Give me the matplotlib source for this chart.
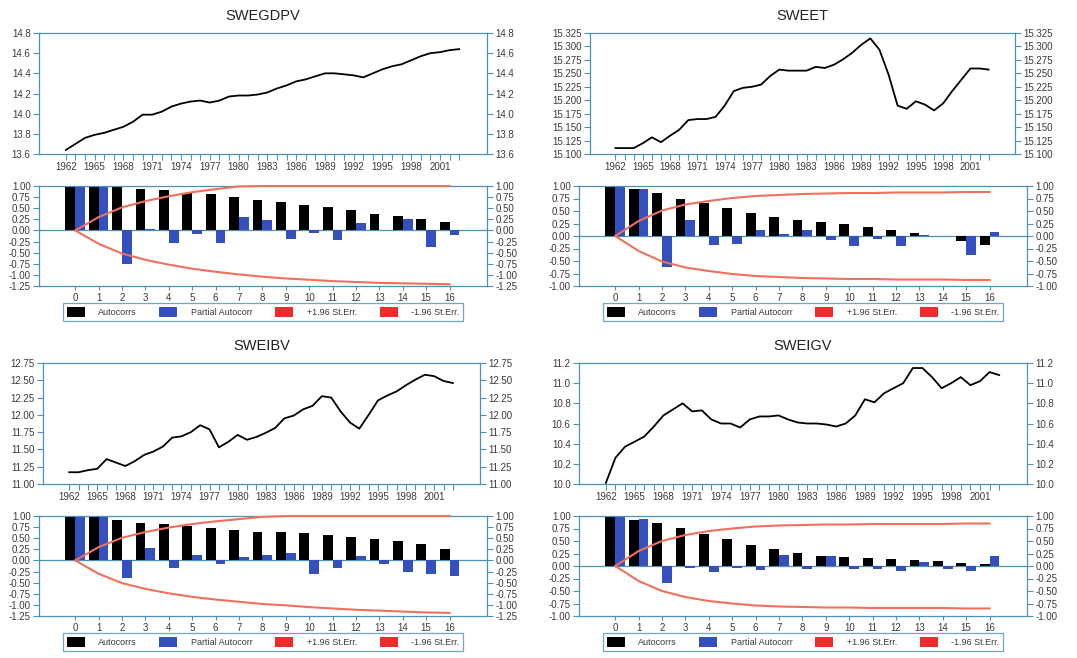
import numpy as np
import matplotlib
matplotlib.use("Agg")
import matplotlib.pyplot as plt
from matplotlib.patches import Patch
from matplotlib.ticker import FuncFormatter

plt.rcParams['font.family'] = ['Liberation Sans', 'DejaVu Sans']

years = list(range(1962, 2004))
lags = list(range(17))

# log levels, 1962-2003
swegdpv = [13.64, 13.70, 13.76, 13.79, 13.81, 13.84, 13.87, 13.92, 13.99, 13.99,
           14.02, 14.07, 14.10, 14.12, 14.13, 14.11, 14.13, 14.17, 14.18, 14.18,
           14.19, 14.21, 14.25, 14.28, 14.32, 14.34, 14.37, 14.40, 14.40, 14.39,
           14.38, 14.36, 14.40, 14.44, 14.47, 14.49, 14.53, 14.57, 14.60, 14.61,
           14.63, 14.64]
sweet = [15.111, 15.111, 15.111, 15.120, 15.131, 15.122, 15.134, 15.145, 15.163, 15.165,
         15.165, 15.169, 15.190, 15.217, 15.223, 15.225, 15.229, 15.245, 15.257, 15.255,
         15.255, 15.255, 15.262, 15.260, 15.266, 15.276, 15.288, 15.303, 15.315, 15.294,
         15.248, 15.190, 15.184, 15.198, 15.192, 15.181, 15.194, 15.217, 15.238, 15.259,
         15.259, 15.257]
sweibv = [11.17, 11.17, 11.20, 11.22, 11.36, 11.31, 11.26, 11.33, 11.42, 11.47,
          11.54, 11.67, 11.69, 11.75, 11.85, 11.79, 11.53, 11.61, 11.71, 11.64,
          11.68, 11.74, 11.81, 11.95, 11.99, 12.08, 12.13, 12.27, 12.25, 12.05,
          11.89, 11.80, 12.00, 12.21, 12.28, 12.34, 12.43, 12.51, 12.58, 12.56,
          12.49, 12.46]
sweigv = [10.01, 10.26, 10.37, 10.42, 10.47, 10.57, 10.68, 10.74, 10.80, 10.72,
          10.73, 10.64, 10.60, 10.60, 10.56, 10.64, 10.67, 10.67, 10.68, 10.64,
          10.61, 10.60, 10.60, 10.59, 10.57, 10.60, 10.68, 10.84, 10.81, 10.90,
          10.95, 11.00, 11.15, 11.15, 11.06, 10.95, 11.00, 11.06, 10.98, 11.02,
          11.11, 11.08]

# correlograms, lags 0-16
gdp_acf = [1.00, 1.00, 0.97, 0.94, 0.90, 0.85, 0.81, 0.75, 0.69, 0.64,
           0.58, 0.52, 0.45, 0.38, 0.32, 0.26, 0.19]
gdp_pacf = [1.00, 1.00, -0.76, 0.04, -0.29, -0.09, -0.29, 0.31, 0.23, -0.20,
            -0.05, -0.22, 0.17, 0.01, 0.26, -0.38, -0.10]
gdp_band = [0.00, 0.30, 0.52, 0.66, 0.77, 0.86, 0.93, 0.99, 1.04, 1.08,
            1.11, 1.14, 1.16, 1.18, 1.19, 1.20, 1.21]

et_acf = [1.00, 0.95, 0.86, 0.75, 0.66, 0.57, 0.47, 0.39, 0.33, 0.29,
          0.24, 0.19, 0.13, 0.07, 0.01, -0.10, -0.18]
et_pacf = [1.00, 0.95, -0.62, 0.33, -0.18, -0.15, 0.12, 0.05, 0.12, -0.08,
           -0.19, -0.05, -0.19, 0.03, 0.00, -0.37, 0.09]
et_band = [0.00, 0.30, 0.51, 0.63, 0.70, 0.76, 0.80, 0.82, 0.84, 0.85,
           0.86, 0.86, 0.87, 0.87, 0.87, 0.88, 0.88]

ibv_acf = [1.00, 0.97, 0.90, 0.85, 0.81, 0.77, 0.72, 0.68, 0.64, 0.64,
           0.62, 0.58, 0.53, 0.49, 0.44, 0.36, 0.26]
ibv_pacf = [1.00, 0.97, -0.39, 0.27, -0.18, 0.13, -0.08, 0.08, 0.13, 0.16,
            -0.31, -0.16, 0.10, -0.08, -0.27, -0.31, -0.34]
ibv_band = [0.00, 0.30, 0.51, 0.64, 0.74, 0.82, 0.88, 0.93, 0.98, 1.01,
            1.05, 1.08, 1.11, 1.13, 1.15, 1.17, 1.18]

igv_acf = [1.00, 0.93, 0.86, 0.76, 0.65, 0.54, 0.43, 0.34, 0.27, 0.20,
           0.19, 0.16, 0.14, 0.12, 0.10, 0.06, 0.04]
igv_pacf = [1.00, 0.94, -0.33, -0.04, -0.12, -0.04, -0.08, 0.23, -0.06, 0.20,
            -0.06, -0.05, -0.10, 0.08, -0.06, -0.10, 0.20]
igv_band = [0.00, 0.30, 0.50, 0.62, 0.70, 0.75, 0.79, 0.81, 0.82, 0.83,
            0.83, 0.84, 0.84, 0.84, 0.84, 0.85, 0.85]

legend_labels = ['Autocorrs', 'Partial Autocorr', '+1.96 St.Err.', '-1.96 St.Err.']

AXIS = '#4a93b5'
BLUE = '#3450bf'
BAND = '#f0705e'
RED = '#ee2c2c'
TXT = '#3a3a3a'

W, H = 1077, 658


def rect(l, r, t, b):
    return [l / W, 1 - b / H, (r - l) / W, (b - t) / H]


def style(ax):
    for s in ax.spines.values():
        s.set_color(AXIS)
        s.set_linewidth(0.9)
    ax.tick_params(colors=AXIS, labelcolor=TXT, labelsize=7, width=0.8)
    ax.tick_params(axis='y', left=True, right=True, labelleft=True, labelright=True,
                   length=4, pad=2)
    ax.tick_params(axis='x', length=4, pad=2)


def draw_level(ax, name, values, yticks, fmt):
    ax.plot(years, values, color='black', lw=1.3)
    ax.set_xlim(1959.2, 2005.9)
    ax.set_xticks(years)
    ax.set_xticklabels([str(y) if (y - 1962) % 3 == 0 else '' for y in years])
    ax.set_ylim(yticks[0], yticks[-1])
    ax.set_yticks(yticks)
    ax.yaxis.set_major_formatter(FuncFormatter(lambda v, p: fmt % v))
    style(ax)
    ax.set_title(name, fontsize=10.5, pad=9, color='#222222')


def draw_acf(ax, acf, pacf, band, ylo):
    band = np.array(band)
    ax.bar(lags, acf, width=-0.42, align='edge', color='black', zorder=2)
    ax.bar(lags, pacf, width=0.42, align='edge', color=BLUE, zorder=2)
    ax.axhline(0, color=AXIS, lw=0.9, zorder=1)
    # the chart clamps the bands to the plotting range
    ax.plot(lags, np.minimum(band, 1.0), color=BAND, lw=1.5, zorder=3, clip_on=False)
    ax.plot(lags, np.maximum(-band, ylo), color=BAND, lw=1.5, zorder=3, clip_on=False)
    ax.set_xlim(-1.55, 17.6)
    ax.set_xticks(lags)
    ax.set_ylim(ylo, 1.0)
    ax.set_yticks(np.arange(ylo, 1.001, 0.25))
    ax.yaxis.set_major_formatter(FuncFormatter(lambda v, p: '%.2f' % v))
    style(ax)
    ax.tick_params(axis='x', length=3)
    handles = [Patch(fc='black'), Patch(fc=BLUE), Patch(fc=RED), Patch(fc=RED)]
    leg = ax.legend(handles, legend_labels, loc='upper center',
                    bbox_to_anchor=(0.5, -0.17), ncol=4, fontsize=6.5,
                    frameon=True, fancybox=False, handlelength=2.0,
                    handleheight=1.3, handletextpad=1.5, columnspacing=2.5,
                    borderpad=0.45, borderaxespad=0)
    leg.get_frame().set_edgecolor(AXIS)
    leg.get_frame().set_linewidth(0.9)
    for t in leg.get_texts():
        t.set_color(TXT)


fig = plt.figure(figsize=(W / 100, H / 100), dpi=100)

ax = fig.add_axes(rect(39, 487, 33, 154))
draw_level(ax, 'SWEGDPV', swegdpv, np.arange(13.6, 14.81, 0.2), '%.1f')
ax = fig.add_axes(rect(39, 487, 186, 286))
draw_acf(ax, gdp_acf, gdp_pacf, gdp_band, -1.25)

ax = fig.add_axes(rect(590, 1015, 33, 154))
draw_level(ax, 'SWEET', sweet, np.arange(15.100, 15.3251, 0.025), '%.3f')
ax = fig.add_axes(rect(579, 1027, 186, 286))
draw_acf(ax, et_acf, et_pacf, et_band, -1.0)

ax = fig.add_axes(rect(43, 480, 363, 484))
draw_level(ax, 'SWEIBV', sweibv, np.arange(11.0, 12.751, 0.25), '%.2f')
ax = fig.add_axes(rect(39, 487, 516, 616))
draw_acf(ax, ibv_acf, ibv_pacf, ibv_band, -1.25)

ax = fig.add_axes(rect(579, 1027, 363, 484))
draw_level(ax, 'SWEIGV', sweigv, np.arange(10.0, 11.21, 0.2), '%.1f')
ax = fig.add_axes(rect(579, 1027, 516, 616))
draw_acf(ax, igv_acf, igv_pacf, igv_band, -1.0)

fig.savefig('out.png', dpi=100)
